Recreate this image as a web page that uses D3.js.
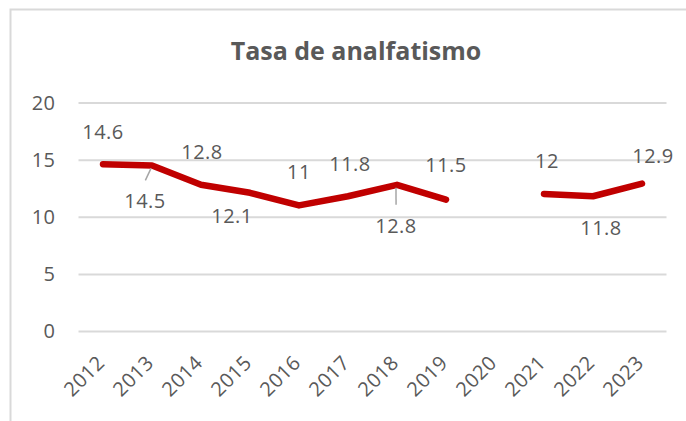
<!DOCTYPE html>
<html>
<head>
<meta charset="utf-8">
<script src="https://cdn.jsdelivr.net/npm/d3@7"></script>
<style>
  body { margin: 0; background: #fff; }
  svg { display: block; }
</style>
</head>
<body>
<div id="chart"></div>
<script>
// data
var years = ["2012", "2013", "2014", "2015", "2016", "2017", "2018", "2019", "2020", "2021", "2022", "2023"];
var tasa = [14.6, 14.5, 12.8, 12.1, 11, 11.8, 12.8, 11.5, null, 12, 11.8, 12.9];
var yTicks = [0, 5, 10, 15, 20];
var title = "Tasa de analfatismo";

var W = 686, H = 421;
var font = "'Open Sans', 'Noto Sans', sans-serif";
var grey = "#595959";

var svg = d3.select("#chart").append("svg")
  .attr("width", W)
  .attr("height", H);

// chart frame (right and bottom edges fall outside the crop)
svg.append("rect")
  .attr("x", 10.5).attr("y", 9.5)
  .attr("width", 720).attr("height", 440)
  .attr("fill", "#fff")
  .attr("stroke", "#d9d9d9")
  .attr("stroke-width", 2);

svg.append("text")
  .attr("x", 356).attr("y", 60)
  .attr("text-anchor", "middle")
  .attr("font-family", font)
  .attr("font-weight", "bold")
  .attr("font-size", "25px")
  .attr("fill", grey)
  .text(title);

var x = d3.scaleBand()
  .domain(years)
  .range([78.5, 666.5]);

var y = d3.scaleLinear()
  .domain([0, 20])
  .range([331, 102.6]);

var data = years.map(function(yr, i) {
  return { year: yr, v: tasa[i] };
});

// gridlines + y labels
var yAxis = svg.append("g")
  .attr("transform", "translate(" + x.range()[0] + ",0)")
  .call(d3.axisLeft(y).tickValues(yTicks).tickSize(-(x.range()[1] - x.range()[0])).tickPadding(23));
yAxis.select(".domain").remove();
yAxis.selectAll("line")
  .attr("stroke", "#d9d9d9")
  .attr("stroke-width", 2);
yAxis.selectAll("text")
  .attr("font-family", font)
  .attr("font-size", "20px")
  .attr("letter-spacing", "0.5px")
  .attr("fill", grey);

// x labels, rotated
var xAxis = svg.append("g")
  .attr("transform", "translate(0," + y(0) + ")")
  .call(d3.axisBottom(x).tickSize(0).tickPadding(0));
xAxis.select(".domain").remove();
xAxis.selectAll("text")
  .attr("font-family", font)
  .attr("font-size", "20px")
  .attr("letter-spacing", "0.5px")
  .attr("fill", grey)
  .attr("text-anchor", "end")
  .attr("dy", null)
  .attr("transform", "translate(3,33) rotate(-45)");

var cx = function(d) { return x(d.year) + x.bandwidth() / 2; };

var line = d3.line()
  .defined(function(d) { return d.v != null; })
  .x(cx)
  .y(function(d) { return y(d.v); });

svg.append("path")
  .datum(data)
  .attr("fill", "none")
  .attr("stroke", "#c00000")
  .attr("stroke-width", 6.5)
  .attr("stroke-linecap", "round")
  .attr("stroke-linejoin", "round")
  .attr("d", line);

// label placement as Excel left it: [dx, dy, leader]
var place = {
  "2012": [0, -25], "2013": [-7, 43, true], "2014": [1, -26], "2015": [-18, 30],
  "2016": [0, -26], "2017": [2, -25], "2018": [-1, 48, true], "2019": [0, -28],
  "2021": [3, -26], "2022": [8, 39], "2023": [11, -21]
};

var pts = data.filter(function(d) { return d.v != null; });

svg.selectAll("line.leader")
  .data(pts.filter(function(d) { return place[d.year][2]; }))
  .enter().append("line")
  .attr("class", "leader")
  .attr("x1", function(d) { return cx(d) + place[d.year][0] * 0.95; })
  .attr("y1", function(d) { return y(d.v) + place[d.year][1] - 28; })
  .attr("x2", function(d) { return cx(d) - 1; })
  .attr("y2", function(d) { return y(d.v) + 3; })
  .attr("stroke", "#a6a6a6")
  .attr("stroke-width", 1.5);

svg.selectAll("text.lbl")
  .data(pts)
  .enter().append("text")
  .attr("class", "lbl")
  .attr("x", function(d) { return cx(d) + place[d.year][0]; })
  .attr("y", function(d) { return y(d.v) + place[d.year][1]; })
  .attr("text-anchor", "middle")
  .attr("font-family", font)
  .attr("font-size", "20px")
  .attr("letter-spacing", "0.5px")
  .attr("fill", grey)
  .text(function(d) { return d.v; });
</script>
</body>
</html>
